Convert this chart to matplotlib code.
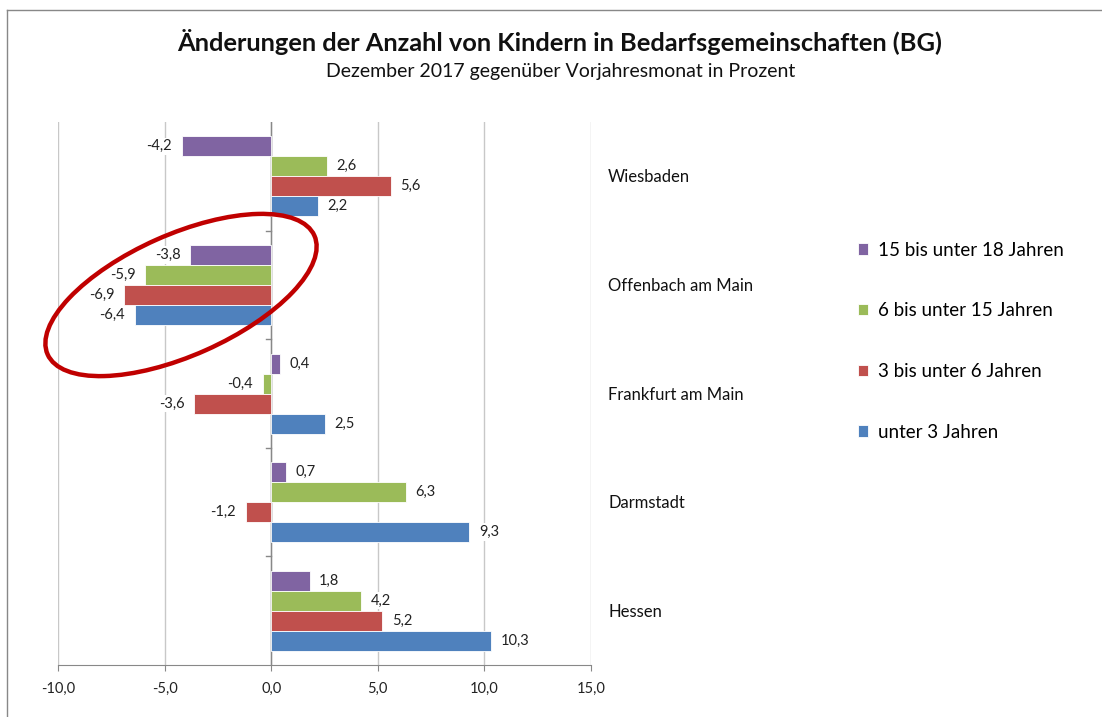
import matplotlib.pyplot as plt
import numpy as np
from matplotlib.patches import Ellipse

# Values in percent, top group first
regions = ['Wiesbaden', 'Offenbach am Main', 'Frankfurt am Main',
           'Darmstadt', 'Hessen']
series = ['15 bis unter 18 Jahren', '6 bis unter 15 Jahren',
          '3 bis unter 6 Jahren', 'unter 3 Jahren']
age_15_18 = [-4.2, -3.8, 0.4, 0.7, 1.8]
age_6_15 = [2.6, -5.9, -0.4, 6.3, 4.2]
age_3_6 = [5.6, -6.9, -3.6, -1.2, 5.2]
age_0_3 = [2.2, -6.4, 2.5, 9.3, 10.3]
x_ticks = [-10, -5, 0, 5, 10, 15]

colors = ['#8064A2', '#9BBB59', '#C0504D', '#4F81BD']
values = [age_15_18, age_6_15, age_3_6, age_0_3]

plt.rcParams['font.family'] = ['Lato', 'DejaVu Sans']

fig = plt.figure(figsize=(11.02, 7.17), dpi=100)
ax = fig.add_axes([58 / 1102, 1 - 665 / 717, 533 / 1102, 543 / 717])

n = len(regions)
bar_h = 20 / 108.6
group_pos = np.arange(n)[::-1]  # Wiesbaden at the top
handles = []
for i, (vals, col) in enumerate(zip(values, colors)):
    y = group_pos + (1.5 - i) * bar_h
    b = ax.barh(y, vals, height=bar_h, color=col, edgecolor='white',
                linewidth=0.6, zorder=3)
    handles.append(b)
    for yy, v in zip(y, vals):
        txt = f'{v:.1f}'.replace('.', ',')
        off = 0.45 if v >= 0 else -0.45
        ax.text(v + off, yy, txt, ha='left' if v >= 0 else 'right',
                va='center', fontsize=10.5, color='#222222', zorder=4,
                bbox=dict(facecolor='white', edgecolor='none', pad=1.2))

ax.set_xlim(-10, 15)
ax.set_ylim(-0.5, n - 0.5)
ax.set_xticks(x_ticks)
ax.set_xticklabels([f'{t:.1f}'.replace('.', ',') for t in x_ticks],
                   fontsize=10.5, color='#222222')
ax.xaxis.grid(True, color='#C8C8C8', linewidth=1, zorder=0)
ax.tick_params(axis='x', length=4, color='#888888', pad=8)

for s in ['top', 'right', 'left']:
    ax.spines[s].set_visible(False)
ax.spines['bottom'].set_color('#888888')

# category axis along zero with small ticks between the groups
ax.axvline(0, color='#888888', linewidth=1, zorder=2)
ax.set_yticks([])
for b in np.arange(n - 1) + 0.5:
    ax.plot([-0.25, 0], [b, b], color='#888888', linewidth=1, zorder=2)
for g, name in zip(group_pos, regions):
    ax.text(15.8, g - 0.01, name, ha='left', va='center', fontsize=12,
            color='#111111', clip_on=False)

fig.legend(handles, series, loc='upper left',
           bbox_to_anchor=(850 / 1102, 1 - 234 / 717), frameon=False,
           fontsize=13.5, handlelength=0.55, handleheight=0.55,
           handletextpad=0.55, labelspacing=2.33, borderaxespad=0)

fig.text(0.508, 1 - 42 / 717, 'Änderungen der Anzahl von Kindern in '
         'Bedarfsgemeinschaften (BG)', ha='center', va='center',
         fontsize=18.3, fontweight='bold', color='#111111')
fig.text(0.509, 1 - 71 / 717, 'Dezember 2017 gegenüber Vorjahresmonat in Prozent',
         ha='center', va='center', fontsize=14, color='#111111')

# outer frame edges
fig.add_artist(plt.Line2D([7 / 1102, 1], [1 - 10 / 717, 1 - 10 / 717],
                          color='#888888', linewidth=1))
fig.add_artist(plt.Line2D([7 / 1102, 7 / 1102], [0, 1 - 10 / 717],
                          color='#888888', linewidth=1))

# red ring around Offenbach
ring = Ellipse((1.81, (717 - 295) / 100), 2.92, 1.21, angle=24,
               transform=fig.dpi_scale_trans, fill=False,
               edgecolor='#C00000', linewidth=3.2, zorder=10)
fig.add_artist(ring)

fig.savefig('out.png', dpi=100)
